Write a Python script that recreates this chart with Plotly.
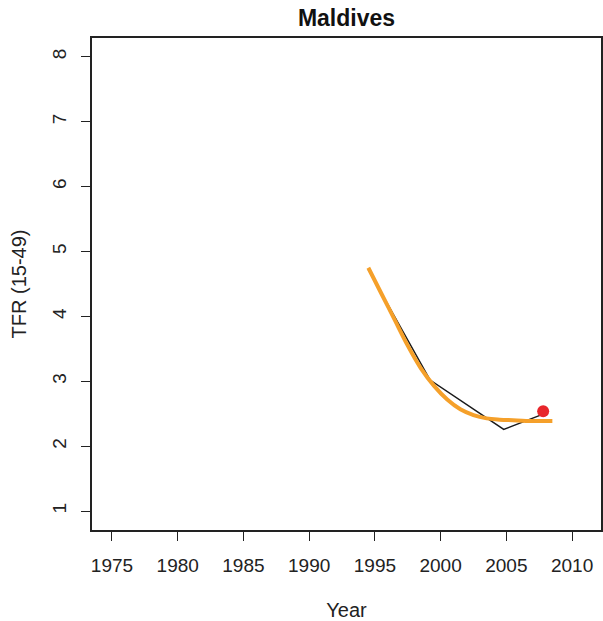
import plotly.graph_objects as go

# Data
obs_years = [1994.5, 1999.2, 2004.8, 2007.6]
obs_tfr = [4.72, 3.02, 2.26, 2.48]

fit_years = [1994.5, 1995.5, 1996.5, 1997.5, 1998.5, 1999.5, 2000.5, 2001.5,
             2002.5, 2003.5, 2004.5, 2005.5, 2006.5, 2007.5, 2008.5]
fit_tfr = [4.75, 4.35, 3.95, 3.55, 3.2, 2.93, 2.72, 2.57,
           2.48, 2.43, 2.41, 2.40, 2.39, 2.39, 2.39]

point_year = [2007.8]
point_tfr = [2.54]

x_ticks = [1975, 1980, 1985, 1990, 1995, 2000, 2005, 2010]
y_ticks = [1, 2, 3, 4, 5, 6, 7, 8]

FONT = "Liberation Sans, Arial, sans-serif"

fig = go.Figure()
fig.add_trace(go.Scatter(x=obs_years, y=obs_tfr, mode="lines",
                         line=dict(color="#1a1a1a", width=1.5), showlegend=False))
fig.add_trace(go.Scatter(x=fit_years, y=fit_tfr, mode="lines",
                         line=dict(color="#F5A02A", width=4, shape="spline"),
                         showlegend=False))
fig.add_trace(go.Scatter(x=point_year, y=point_tfr, mode="markers",
                         marker=dict(color="#E8262B", size=12), showlegend=False))

fig.update_layout(
    width=603, height=621,
    margin=dict(l=92, r=2, t=38, b=91),
    paper_bgcolor="white", plot_bgcolor="white",
    font=dict(family=FONT, size=19, color="#222"),
    title=dict(text="<b>Maldives</b>", x=(92 + 601) / 2 / 603, xanchor="center",
               y=1 - 17.5 / 621, yanchor="middle",
               font=dict(family=FONT, size=23, color="#111")),
)
fig.update_xaxes(
    range=[1973.48, 2012.2], tickvals=x_ticks, ticks="outside", ticklen=9,
    tickwidth=1, tickcolor="#222", showline=True, linecolor="#222", linewidth=1.5,
    mirror=True, showgrid=False, zeroline=False, automargin=False,
    title=dict(text="Year", standoff=32, font=dict(size=20)),
    ticklabelstandoff=8,
)
fig.update_yaxes(
    range=[0.71, 8.29], tickvals=y_ticks, ticks="outside", ticklen=9,
    tickwidth=1, tickcolor="#222", showline=True, linecolor="#222", linewidth=1.5,
    mirror=True, showgrid=False, zeroline=False, tickangle=-90, automargin=False,
    title=dict(text="TFR (15-49)", standoff=17, font=dict(size=20)),
    ticklabelstandoff=8,
)

fig.write_html("out.html", config={"displayModeBar": False},
               post_script="document.body.style.margin='0';document.body.style.overflow='hidden';")
